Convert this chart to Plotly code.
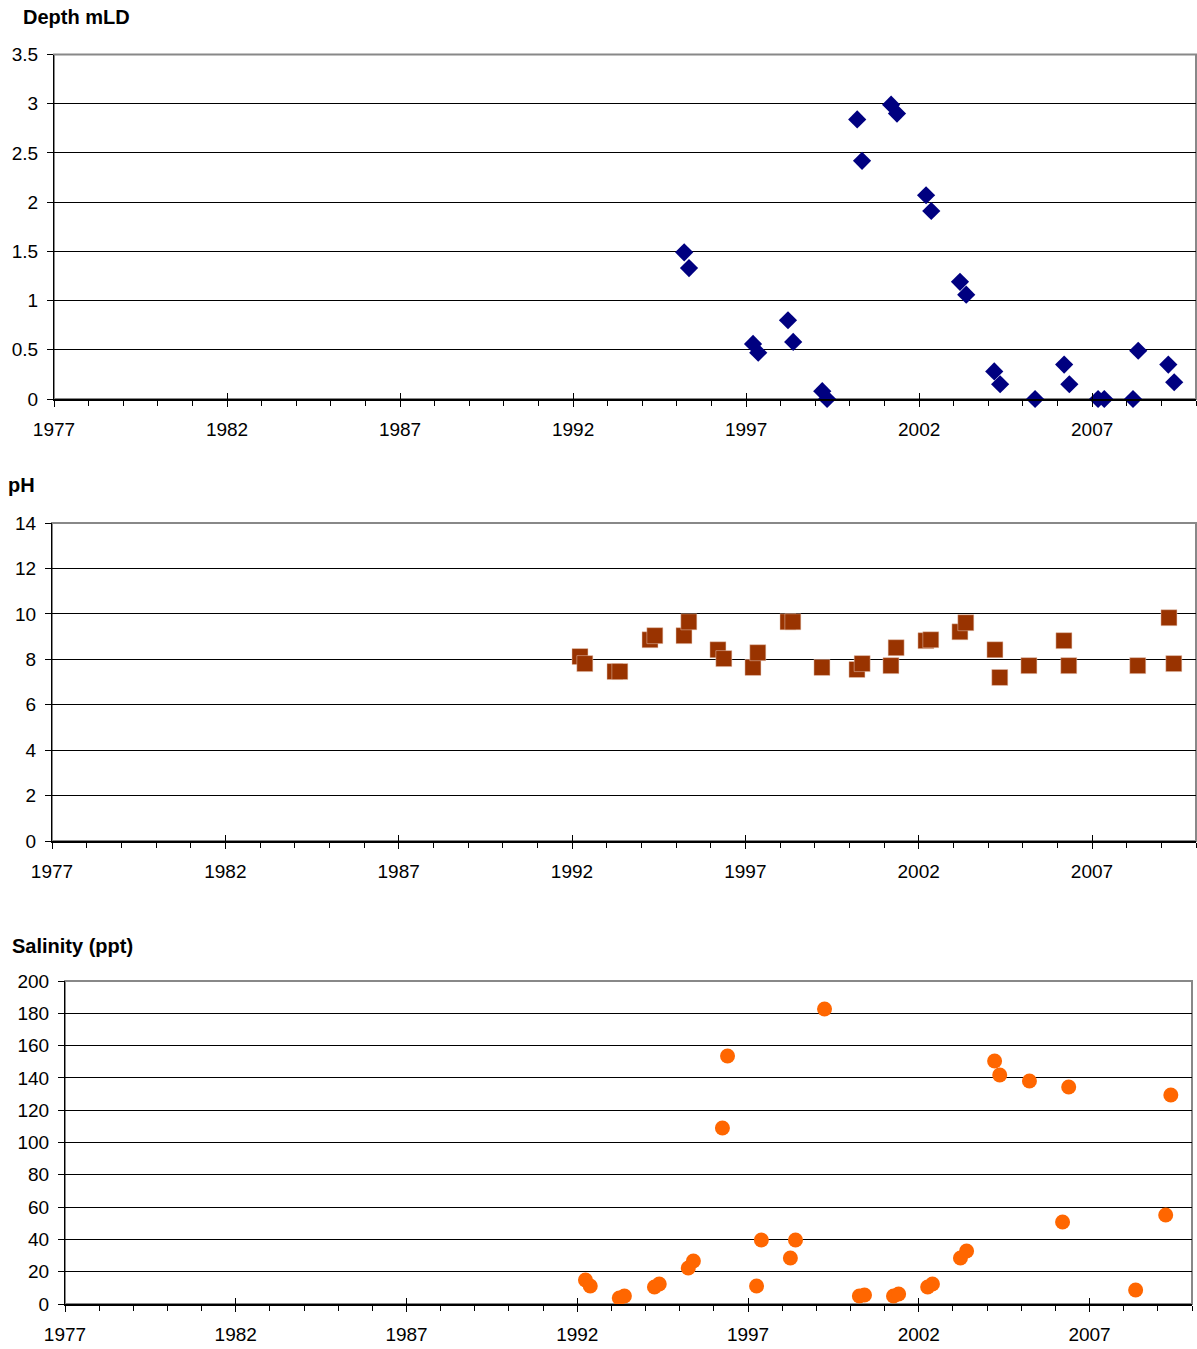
import plotly.graph_objects as go

# ---------------- data ----------------
depth_year = [1995.21, 1995.35, 1997.20, 1997.35, 1998.21, 1998.36, 1999.20, 1999.34,
              2000.21, 2000.35, 2001.19, 2001.36, 2002.20, 2002.35, 2003.18, 2003.36,
              2004.17, 2004.34, 2005.35, 2006.19, 2006.34, 2007.17, 2007.35, 2008.18,
              2008.33, 2009.20, 2009.37]
depth_val = [1.49, 1.33, 0.56, 0.47, 0.80, 0.58, 0.08, 0.0,
             2.84, 2.42, 2.99, 2.90, 2.07, 1.91, 1.19, 1.06,
             0.28, 0.15, 0.0, 0.35, 0.15, 0.0, 0.0, 0.0,
             0.49, 0.35, 0.17]

ph_year = [1992.23, 1992.37, 1993.24, 1993.38, 1994.25, 1994.39, 1995.23, 1995.37,
           1996.21, 1996.38, 1997.22, 1997.36, 1998.23, 1998.37, 1999.21, 2000.22,
           2000.37, 2001.20, 2001.35, 2002.21, 2002.35, 2003.19, 2003.36, 2004.20,
           2004.34, 2005.18, 2006.19, 2006.33, 2008.32, 2009.22, 2009.36]
ph_val = [8.12, 7.81, 7.46, 7.46, 8.86, 9.04, 9.04, 9.65,
          8.42, 8.03, 7.64, 8.29, 9.65, 9.65, 7.64, 7.55,
          7.81, 7.72, 8.51, 8.82, 8.86, 9.21, 9.61, 8.42,
          7.20, 7.72, 8.82, 7.72, 7.72, 9.83, 7.81]

sal_year = [1992.24, 1992.38, 1993.23, 1993.38, 1994.26, 1994.40, 1995.25, 1995.40,
            1996.25, 1996.40, 1997.25, 1997.39, 1998.24, 1998.39, 1999.24, 2000.26,
            2000.41, 2001.26, 2001.41, 2002.26, 2002.40, 2003.22, 2003.40, 2004.22,
            2004.37, 2005.24, 2006.21, 2006.39, 2008.35, 2009.23, 2009.38]
sal_val = [14.9, 11.1, 3.7, 5.0, 10.5, 12.4, 22.3, 26.6,
           109, 153.6, 11.1, 39.6, 28.5, 39.6, 182.7, 5.0,
           5.6, 5.0, 6.2, 10.5, 12.4, 28.5, 32.8, 150.5,
           141.8, 138.1, 50.8, 134.4, 8.7, 55.1, 129.4]

year_ticks = [1977, 1982, 1987, 1992, 1997, 2002, 2007]

# ---------------- layout geometry ----------------
W, H = 1197, 1349
FONT = "Liberation Sans, Arial, sans-serif"

def px_x(x):
    return x / W

def px_y(y):
    return 1 - y / H

panels = [
    dict(l=54, r=1196, t=54.5, b=399, yr=[0, 3.5], dt=0.5),
    dict(l=52, r=1196, t=523, b=841, yr=[0, 14], dt=2),
    dict(l=65, r=1192, t=981, b=1304, yr=[0, 200], dt=20),
]

fig = go.Figure()

fig.add_trace(go.Scatter(x=depth_year, y=depth_val, mode="markers", xaxis="x", yaxis="y",
                         marker=dict(symbol="diamond", size=14, color="#000080"),
                         cliponaxis=False, showlegend=False))
fig.add_trace(go.Scatter(x=ph_year, y=ph_val, mode="markers", xaxis="x2", yaxis="y2",
                         marker=dict(symbol="square", size=16, color="#993300",
                                     line=dict(width=0.5, color="#e8c8b8")),
                         cliponaxis=False, showlegend=False))
fig.add_trace(go.Scatter(x=sal_year, y=sal_val, mode="markers", xaxis="x3", yaxis="y3",
                         marker=dict(symbol="circle", size=15, color="#FF6600"),
                         cliponaxis=False, showlegend=False))

layout = dict(width=W, height=H, margin=dict(l=0, r=0, t=0, b=0, autoexpand=False),
              paper_bgcolor="white", plot_bgcolor="white",
              font=dict(family=FONT, size=18, color="black"), showlegend=False)

shapes = []
for i, p in enumerate(panels):
    n = "" if i == 0 else str(i + 1)
    xd = [px_x(p["l"]), px_x(p["r"])]
    yd = [px_y(p["b"]), px_y(p["t"])]
    layout["xaxis" + n] = dict(domain=xd, anchor="y" + n, range=[1977, 2010],
                               tickvals=year_ticks, ticks="outside", ticklen=6,
                               tickcolor="black", tickwidth=1, automargin=False,
                               showline=True, linecolor="black", linewidth=1.5,
                               showgrid=False, zeroline=False,
                               minor=dict(dtick=1, tick0=1977, ticks="outside", ticklen=5,
                                          tickcolor="black", showgrid=False),
                               ticklabelstandoff=6,
                               tickfont=dict(size=19, family=FONT))
    layout["yaxis" + n] = dict(domain=yd, anchor="x" + n, range=p["yr"], dtick=p["dt"],
                               tick0=0, ticks="outside", ticklen=6, tickcolor="black",
                               showline=True, linecolor="black", linewidth=1,
                               showgrid=True, gridcolor="black", gridwidth=1,
                               zeroline=False, ticklabelstandoff=5, automargin=False,
                               tickfont=dict(size=19, family=FONT))
    k = str(i + 4)
    layout["xaxis" + k] = dict(domain=xd, anchor="y" + n, overlaying="x" + n,
                               range=[1977, 2010], tickvals=year_ticks, ticks="inside",
                               ticklen=6, tickcolor="black", showticklabels=False,
                               automargin=False,
                               showline=False, showgrid=False, zeroline=False)
    shapes.append(dict(type="rect", xref="paper", yref="paper",
                       x0=xd[0], x1=xd[1], y0=yd[0], y1=yd[1],
                       line=dict(color="#888888", width=2), layer="below"))

for i in range(3):
    n = "" if i == 0 else str(i + 1)
    fig.add_trace(go.Scatter(x=[None], y=[None], xaxis="x" + str(i + 4), yaxis="y" + n,
                             showlegend=False, hoverinfo="skip"))

layout["shapes"] = shapes
layout["annotations"] = [
    dict(text="<b>Depth mLD</b>", xref="paper", yref="paper", x=px_x(21), y=px_y(17),
         xanchor="left", yanchor="middle", showarrow=False, font=dict(size=20, family=FONT)),
    dict(text="<b>pH</b>", xref="paper", yref="paper", x=px_x(6), y=px_y(485),
         xanchor="left", yanchor="middle", showarrow=False, font=dict(size=20, family=FONT)),
    dict(text="<b>Salinity (ppt)</b>", xref="paper", yref="paper", x=px_x(10), y=px_y(946),
         xanchor="left", yanchor="middle", showarrow=False, font=dict(size=20, family=FONT)),
]

fig.update_layout(**layout)
fig.write_html("out.html", config={"displayModeBar": False},
               post_script="document.body.style.margin='0';document.body.style.overflow='hidden';")
